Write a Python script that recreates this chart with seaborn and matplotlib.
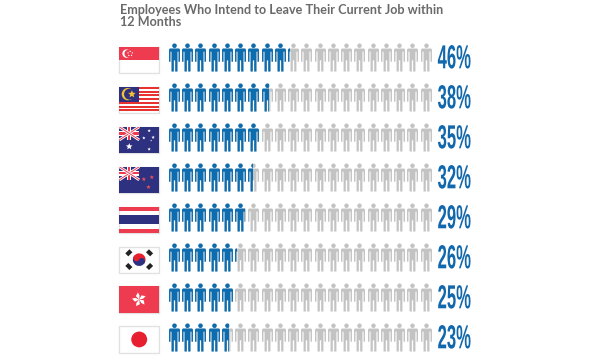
import matplotlib
matplotlib.use("Agg")
import matplotlib.pyplot as plt
import matplotlib.patheffects as pe
import numpy as np
import pandas as pd
import seaborn as sns
from matplotlib.markers import MarkerStyle
from matplotlib.patches import Circle, Polygon, Rectangle, Wedge
from matplotlib.path import Path
from matplotlib.transforms import Affine2D

countries = ["Singapore", "Malaysia", "Australia", "New Zealand",
             "Thailand", "South Korea", "Hong Kong", "Japan"]
percent = [46, 38, 35, 32, 29, 26, 25, 23]
icon_count = 20
title = "Employees Who Intend to Leave Their Current Job within\n12 Months"

BLUE = "#0b6cb0"
GREY = "#c3c3c3"
NAVY = "#2e3180"
RED = "#ef3b4f"
W, H = 600, 360


def person_marker():
    # one outline, going round once, so that nothing cancels out
    outline = [(-0.39, 0.56), (-0.33, 0.64), (0.33, 0.64), (0.39, 0.56),
               (0.39, -0.30), (0.29, -0.30), (0.29, 0.42), (0.21, 0.42),
               (0.21, -1), (0.05, -1), (0.05, -0.20), (-0.05, -0.20),
               (-0.05, -1), (-0.21, -1), (-0.21, 0.42), (-0.29, 0.42),
               (-0.29, -0.30), (-0.39, -0.30)]
    body = Path(outline + [outline[0]], closed=True)
    return MarkerStyle(Path.make_compound_path(Path.circle((0, 0.84), 0.16), body))


class Squeeze(pe.AbstractPathEffect):
    # no condensed font installed, so narrow the glyphs when drawn
    def __init__(self, sx):
        super().__init__()
        self.sx = sx

    def draw_path(self, renderer, gc, tpath, affine, rgbFace=None):
        renderer.draw_path(gc, tpath, Affine2D().scale(self.sx, 1) + affine, rgbFace)


def star(ax, x, y, r, color):
    ang = np.pi / 2 + np.arange(10) * np.pi / 5
    rad = np.where(np.arange(10) % 2 == 0, r, r * 0.45)
    ax.add_patch(Polygon(np.c_[x + rad * np.cos(ang), y + rad * np.sin(ang)],
                         color=color, lw=0))


def union_jack(ax, x0, y0, w, h):
    ax.add_patch(Rectangle((x0, y0), w, h, color=NAVY, lw=0))
    for a, b in [((x0, y0), (x0 + w, y0 + h)), ((x0, y0 + h), (x0 + w, y0))]:
        ax.plot([a[0], b[0]], [a[1], b[1]], color="white", lw=2.0, solid_capstyle="butt")
        ax.plot([a[0], b[0]], [a[1], b[1]], color=RED, lw=0.7, solid_capstyle="butt")
    ax.add_patch(Rectangle((x0, y0 + h * 0.33), w, h * 0.34, color="white", lw=0))
    ax.add_patch(Rectangle((x0 + w * 0.4, y0), w * 0.2, h, color="white", lw=0))
    ax.add_patch(Rectangle((x0, y0 + h * 0.41), w, h * 0.18, color=RED, lw=0))
    ax.add_patch(Rectangle((x0 + w * 0.45, y0), w * 0.1, h, color=RED, lw=0))


def flag_singapore(ax):
    ax.add_patch(Rectangle((0, 1), 3, 1, color=RED, lw=0))
    ax.add_patch(Circle((0.55, 1.5), 0.32, color="white", lw=0))
    ax.add_patch(Circle((0.68, 1.5), 0.29, color=RED, lw=0))
    for a in np.arange(5) * 2 * np.pi / 5 + np.pi / 2:
        ax.add_patch(Circle((0.82 + 0.17 * np.cos(a), 1.5 + 0.17 * np.sin(a)), 0.05, color="white", lw=0))


def flag_malaysia(ax):
    for k in range(7):
        ax.add_patch(Rectangle((0, 2 - (2 * k + 1) / 7), 3, 1 / 7, color="#e8322f", lw=0))
    ax.add_patch(Rectangle((-0.05, 0.85), 1.55, 1.2, color=NAVY, lw=0))
    ax.add_patch(Circle((0.65, 1.45), 0.47, color="#f2c230", lw=0))
    ax.add_patch(Circle((0.78, 1.45), 0.42, color=NAVY, lw=0))
    star(ax, 0.95, 1.45, 0.3, "#f2c230")


def flag_australia(ax):
    ax.add_patch(Rectangle((0, 0), 3, 2, color=NAVY, lw=0))
    union_jack(ax, 0, 1, 1.5, 1)
    star(ax, 0.75, 0.5, 0.26, "white")
    for x, y, r in [(2.25, 1.7, 0.13), (2.55, 1.2, 0.13), (1.85, 1.15, 0.13),
                    (2.25, 0.3, 0.13), (2.4, 0.95, 0.07)]:
        star(ax, x, y, r, "white")


def flag_new_zealand(ax):
    ax.add_patch(Rectangle((0, 0), 3, 2, color=NAVY, lw=0))
    union_jack(ax, 0, 1, 1.5, 1)
    for x, y in [(1.85, 1.05), (2.45, 1.2), (2.2, 0.45)]:
        star(ax, x, y, 0.17, "#e8505f")


def flag_thailand(ax):
    ax.add_patch(Rectangle((0, 0), 3, 0.33, color=RED, lw=0))
    ax.add_patch(Rectangle((0, 1.67), 3, 0.33, color=RED, lw=0))
    ax.add_patch(Rectangle((0, 0.67), 3, 0.66, color=NAVY, lw=0))


def flag_korea(ax):
    ax.add_patch(Wedge((1.5, 1), 0.48, -30, 150, color="#e8212f", lw=0))
    ax.add_patch(Wedge((1.5, 1), 0.48, 150, 330, color=NAVY, lw=0))
    ax.add_patch(Circle((1.3, 1.12), 0.24, color="#e8212f", lw=0))
    ax.add_patch(Circle((1.7, 0.88), 0.24, color=NAVY, lw=0))
    for x, y, a in [(0.72, 1.52, 45), (2.28, 1.52, -45), (0.72, 0.48, -45), (2.28, 0.48, 45)]:
        ax.add_patch(Rectangle((x - 0.22, y - 0.16), 0.44, 0.32, color="#222222", lw=0,
                               transform=Affine2D().rotate_deg_around(x, y, a) + ax.transData))


def flag_hong_kong(ax):
    ax.add_patch(Rectangle((0, 0), 3, 2, color=RED, lw=0))
    for a in np.arange(5) * 72 + 100:
        ca, sa = np.cos(np.radians(a)), np.sin(np.radians(a))
        pts = [(1.5, 1), (1.5 + 0.3 * ca - 0.2 * sa, 1 + 0.3 * sa + 0.2 * ca),
               (1.5 + 0.55 * ca, 1 + 0.55 * sa), (1.5 + 0.3 * ca + 0.08 * sa, 1 + 0.3 * sa - 0.08 * ca)]
        ax.add_patch(Polygon(pts, color="white", lw=0))


def flag_japan(ax):
    ax.add_patch(Circle((1.5, 1), 0.6, color="#e81f2f", lw=0))


flags = [flag_singapore, flag_malaysia, flag_australia, flag_new_zealand,
         flag_thailand, flag_korea, flag_hong_kong, flag_japan]

icons = pd.DataFrame(
    [(r, (i + 0.5) * 100 / icon_count) for r in range(len(countries)) for i in range(icon_count)],
    columns=["row", "pos"],
)

sns.set_theme(style="white")
plt.rcParams["font.family"] = ["Lato", "DejaVu Sans"]

fig = plt.figure(figsize=(W / 100, H / 100), dpi=100, facecolor="white")
ax = fig.add_axes([167.3 / W, 1 - 357 / H, 265 / W, 320 / H])
person = person_marker()
size = 20.16 ** 2

sns.scatterplot(data=icons, x="pos", y="row", marker=person, s=size, color=GREY,
                linewidth=0, legend=False, ax=ax)
for r, p in enumerate(percent):
    sns.scatterplot(data=icons[icons["row"] == r], x="pos", y="row", marker=person, s=size,
                    color=BLUE, linewidth=0, legend=False, ax=ax)
    ax.collections[-1].set_clip_path(Rectangle((0, r - 0.5), p, 1, transform=ax.transData))
    ax.text(102, r + 0.07, f"{p}%", color="#1268ad", fontsize=24, fontweight="bold",
            family=["Liberation Sans Narrow", "Liberation Sans"], va="center", ha="left",
            path_effects=[Squeeze(0.5)])

ax.set_xlim(0, 100)
ax.set_ylim(len(countries) - 0.5, -0.5)
ax.axis("off")

for r, draw in enumerate(flags):
    top = 47 + 39.9 * r
    fa = fig.add_axes([119.3 / W, 1 - (top + 26.3) / H, 39.8 / W, 26.3 / H])
    fa.set_xlim(0, 3)
    fa.set_ylim(0, 2)
    fa.axis("off")
    fa.add_patch(Rectangle((0, 0), 3, 2, facecolor="white", edgecolor="#e2e2e2", lw=1.0, clip_on=False))
    draw(fa)

fig.text(120 / W, 1 - 4.5 / H, title, color="#6a6a6a", fontsize=9.1, fontweight="bold",
         va="top", ha="left", linespacing=1.0)

fig.savefig("out.png", dpi=100)
